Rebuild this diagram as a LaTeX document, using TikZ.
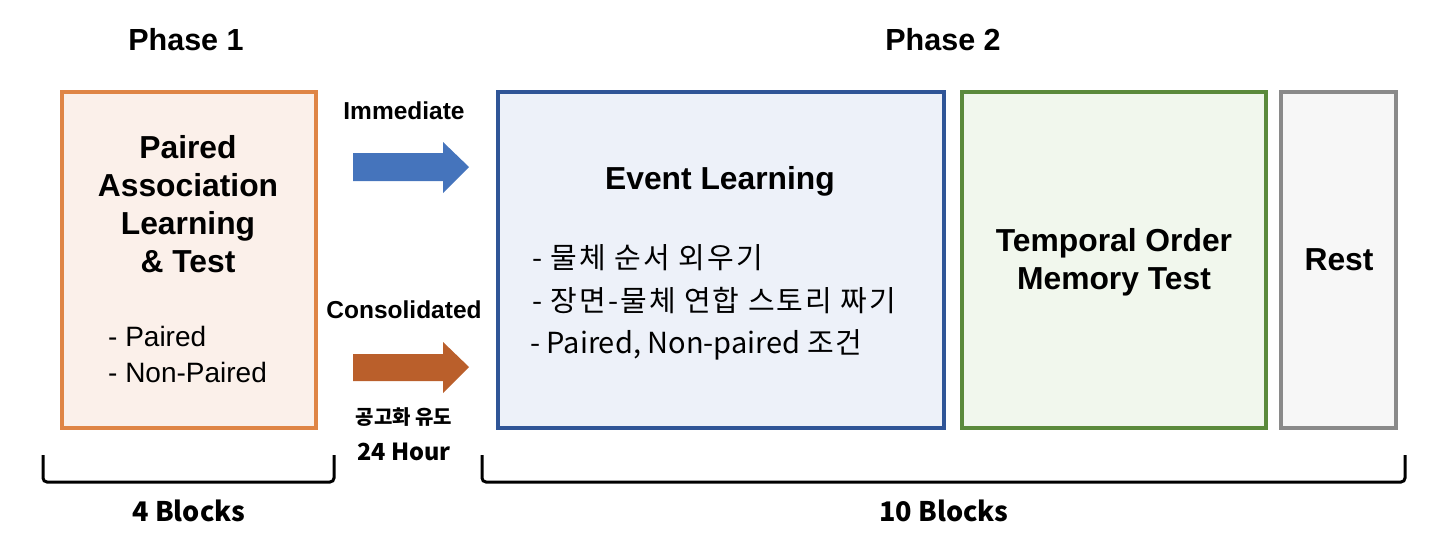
\documentclass[tikz,border=0pt]{standalone}
\usepackage{fontspec}
\setmainfont{Liberation Sans}
\newfontfamily\kr{Noto Sans CJK KR}
\newfontfamily\krsp[LetterSpace=7]{Noto Sans CJK KR}
\definecolor{orB}{HTML}{DF8546}
\definecolor{orF}{HTML}{FBF0EA}
\definecolor{blB}{HTML}{2F5597}
\definecolor{blF}{HTML}{EDF1F9}
\definecolor{grB}{HTML}{5B8A3C}
\definecolor{grF}{HTML}{F1F7ED}
\definecolor{gyB}{HTML}{8A8A8A}
\definecolor{gyF}{HTML}{F7F7F7}
\definecolor{arBl}{HTML}{4574BC}
\definecolor{arOr}{HTML}{BA5F2B}
\tikzset{
  box/.style={draw, line width=4pt, inner sep=0pt},
  ttl/.style={font=\fontsize{31.8}{32}\selectfont\bfseries, anchor=base, inner sep=0pt},
  phs/.style={font=\fontsize{30.5}{31}\selectfont\bfseries, anchor=base, inner sep=0pt},
  lbl/.style={font=\fontsize{24.5}{25}\selectfont\bfseries, anchor=base, inner sep=0pt},
  item/.style={font=\fontsize{28}{28}\selectfont, anchor=base west, inner sep=0pt},
  kitem/.style={font=\krsp\fontsize{29}{29}\selectfont, anchor=base west, inner sep=0pt},
  klbl/.style={font=\kr\bfseries\fontsize{27}{27}\selectfont, anchor=base, inner sep=0pt},
  brk/.style={line width=3pt, rounded corners=4pt},
}
\begin{document}
\begin{tikzpicture}[x=1pt,y=-1pt]
\useasboundingbox (0,0) rectangle (1430,546);
% boxes
\path[box, draw=orB, fill=orF] (62,92) rectangle (316,428);
\path[box, draw=blB, fill=blF] (498,92) rectangle (944,428);
\path[box, draw=grB, fill=grF] (962,92) rectangle (1266,428);
\path[box, draw=gyB, fill=gyF] (1281,92) rectangle (1396,428);
% headings
\node[phs] (ph1) at (186,50) {Phase 1};
\node[phs] (ph2) at (943,50) {Phase 2};
% box 1 text
\node[ttl] (p1a) at (188,158) {Paired};
\node[ttl] (p1b) at (188,196) {Association};
\node[ttl] (p1c) at (188,234) {Learning};
\node[ttl] (p1d) at (188,272) {\& Test};
\node[item] (p1e) at (108,346) {- Paired};
\node[item] (p1f) at (108,382) {- Non-Paired};
% box 2 text
\node[ttl] (ev) at (720,189) {Event Learning};
\node[kitem] (k1) at (532,268) {- 물체 순서 외우기};
\node[kitem] (k2) at (532,311) {- 장면-물체 연합 스토리 짜기};
\node[kitem, font=\kr\fontsize{29}{29}\selectfont] (k3) at (530,353) {- Paired, Non-paired {\krsp 조건}};
% box 3, 4 text
\node[ttl] (t1) at (1114,251) {Temporal Order};
\node[ttl] (t2) at (1114,289) {Memory Test};
\node[ttl] (rs) at (1339,270) {Rest};
% arrows
\fill[arBl] (353,153) -- (443,153) -- (443,142) -- (469,167) -- (443,193) -- (443,181) -- (353,181) -- cycle;
\fill[arOr] (353,354) -- (443,354) -- (443,342) -- (469,367) -- (443,393) -- (443,381) -- (353,381) -- cycle;
\node[lbl] (im) at (404,119) {Immediate};
\node[lbl] (co) at (404,318) {Consolidated};
\node[font=\kr\bfseries\fontsize{20}{20}\selectfont, anchor=base, inner sep=0pt] (kg) at (404,424) {공고화 유도};
\node[klbl, font=\kr\bfseries\fontsize{23.5}{24}\selectfont] (h24) at (404,460) {24 Hour};
% brackets
\draw[brk] (43,455) -- (43,482) -- (334,482) -- (334,455);
\draw[brk] (482,455) -- (482,482) -- (1405,482) -- (1405,455);
\node[klbl] (b4) at (189,521) {4 Blocks};
\node[klbl] (b10) at (944,521) {10 Blocks};
\end{tikzpicture}
\end{document}
